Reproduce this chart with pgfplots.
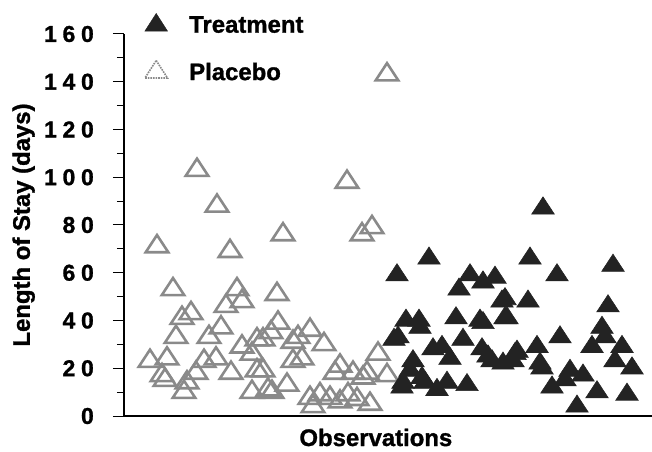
\documentclass[border=0pt]{standalone}
\usepackage{pgfplots}
\pgfplotsset{compat=1.18}
\usepackage{fontspec}
\setmainfont{Liberation Sans}[BoldFeatures={FakeBold=1.2}]
\definecolor{placebo}{HTML}{8A8A8A}
\definecolor{treat}{HTML}{232323}
\newcommand\gs{\kern0.25em}
\newcommand\tl[1]{\textbf{#1}}
\begin{document}
\begin{tikzpicture}
\useasboundingbox (-124bp,-36bp) rectangle (528bp,416bp);
\begin{axis}[
  at={(0,0)}, anchor=south west,
  scale only axis, width=528bp, height=382bp,
  xmin=124, xmax=652, ymin=0, ymax=160,
  axis lines*=left,
  axis line style={line width=1.2bp, black},
  xtick=\empty,
  ytick={0,20,...,160},
  yticklabels={\tl{0},\tl{2\gs0},\tl{4\gs0},\tl{6\gs0},\tl{8\gs0},\tl{1\gs0\gs0},\tl{1\gs2\gs0},\tl{1\gs4\gs0},\tl{1\gs6\gs0}},
  minor ytick={10,30,...,150},
  tick align=outside,
  major tick length=11bp, minor tick length=7bp,
  every tick/.style={line width=1bp, black},
  yticklabel style={font=\fontsize{23}{23}\selectfont\bfseries, inner sep=0pt, xshift=-19bp},
  clip=false,
  xlabel={Observations}, ylabel={Length of Stay (days)},
  label style={font=\fontsize{24}{24}\selectfont\bfseries},
  xlabel style={at={(rel axis cs:0.477,0)}, anchor=base, yshift=-30bp},
  ylabel style={at={(rel axis cs:-0.19,0.5)}, anchor=center},
  legend image code/.code={\path[draw=none,fill=none] (-12bp,-12bp) rectangle (33bp,12bp); \draw[#1] plot coordinates {(0bp,0bp)};},
  legend style={at={(rel axis cs:0.0379,1.055)}, anchor=north west, draw=none, fill=none,
    inner sep=0pt, row sep=23bp, font=\fontsize{24}{24}\selectfont\bfseries,
    nodes={inner sep=0pt}},
  legend cell align=left,
]
\addlegendimage{only marks, mark=triangle*, mark size=13bp, mark options={yscale=0.9, fill=treat, draw=treat, line width=0.5bp}}
\addlegendimage{only marks, mark=triangle, mark size=13bp, mark options={yscale=0.9, draw=placebo, line width=1.6bp, densely dotted}}
\legend{Treatment, Placebo}
% Placebo
\addplot[forget plot, only marks, mark=triangle, mark size=13bp,
  mark options={yscale=0.88, draw=placebo, line width=2.6bp}] coordinates {
(157,71) (197,103) (217,88) (230,69) (283,76) (347,98) (362,76) (372,79) (387,143)
(150,23) (167,24) (162,17) (165,15) (173,53) (182,41) (191,43) (176,33) (184,10)
(187,14) (196,18) (204,23) (209,33) (216,24) (221,37) (226,46) (237,53) (242,48)
(231,18) (242,29) (257,32) (252,26) (252,10) (257,19) (263,32) (263,19) (271,35)
(272,10) (277,51) (278,39) (287,13) (293,31) (293,23) (298,33) (302,24) (310,36)
(324,30) (335,18) (340,21) (353,18) (363,16) (367,18) (378,26) (387,17) (310,7.5)
(313,4) (320,9) (330,7.5) (340,6) (348,9) (357,7) (370,5) (268,11)
};
% Treatment
\addplot[forget plot, only marks, mark=triangle*, mark size=13bp,
  mark options={yscale=0.88, fill=treat, draw=treat, line width=0.6bp}] coordinates {
(397,59) (429,66) (470,59) (483,56) (495,58) (459,53) (502,48) (406,40) (419,40)
(420,37) (456,41) (480,40) (505,41) (394,32) (398,33) (433,28) (442,29) (463,32)
(450,24) (482,28) (492,23) (413,23) (410,19) (422,16) (403,14) (425,14) (437,11)
(447,14) (467,13) (402,12) (543,87) (530,66) (557,59) (613,63) (505,49) (528,48)
(608,46) (507,41) (560,33) (602,37) (605,33) (517,27) (537,29) (592,29) (622,29)
(513,23) (542,20) (615,23) (632,20) (570,19) (583,17) (552,12) (565,15) (597,10)
(627,9) (577,4) (503,22) (488,25) (515,26) (540,22) (483,39)
};
\end{axis}
\end{tikzpicture}
\end{document}
